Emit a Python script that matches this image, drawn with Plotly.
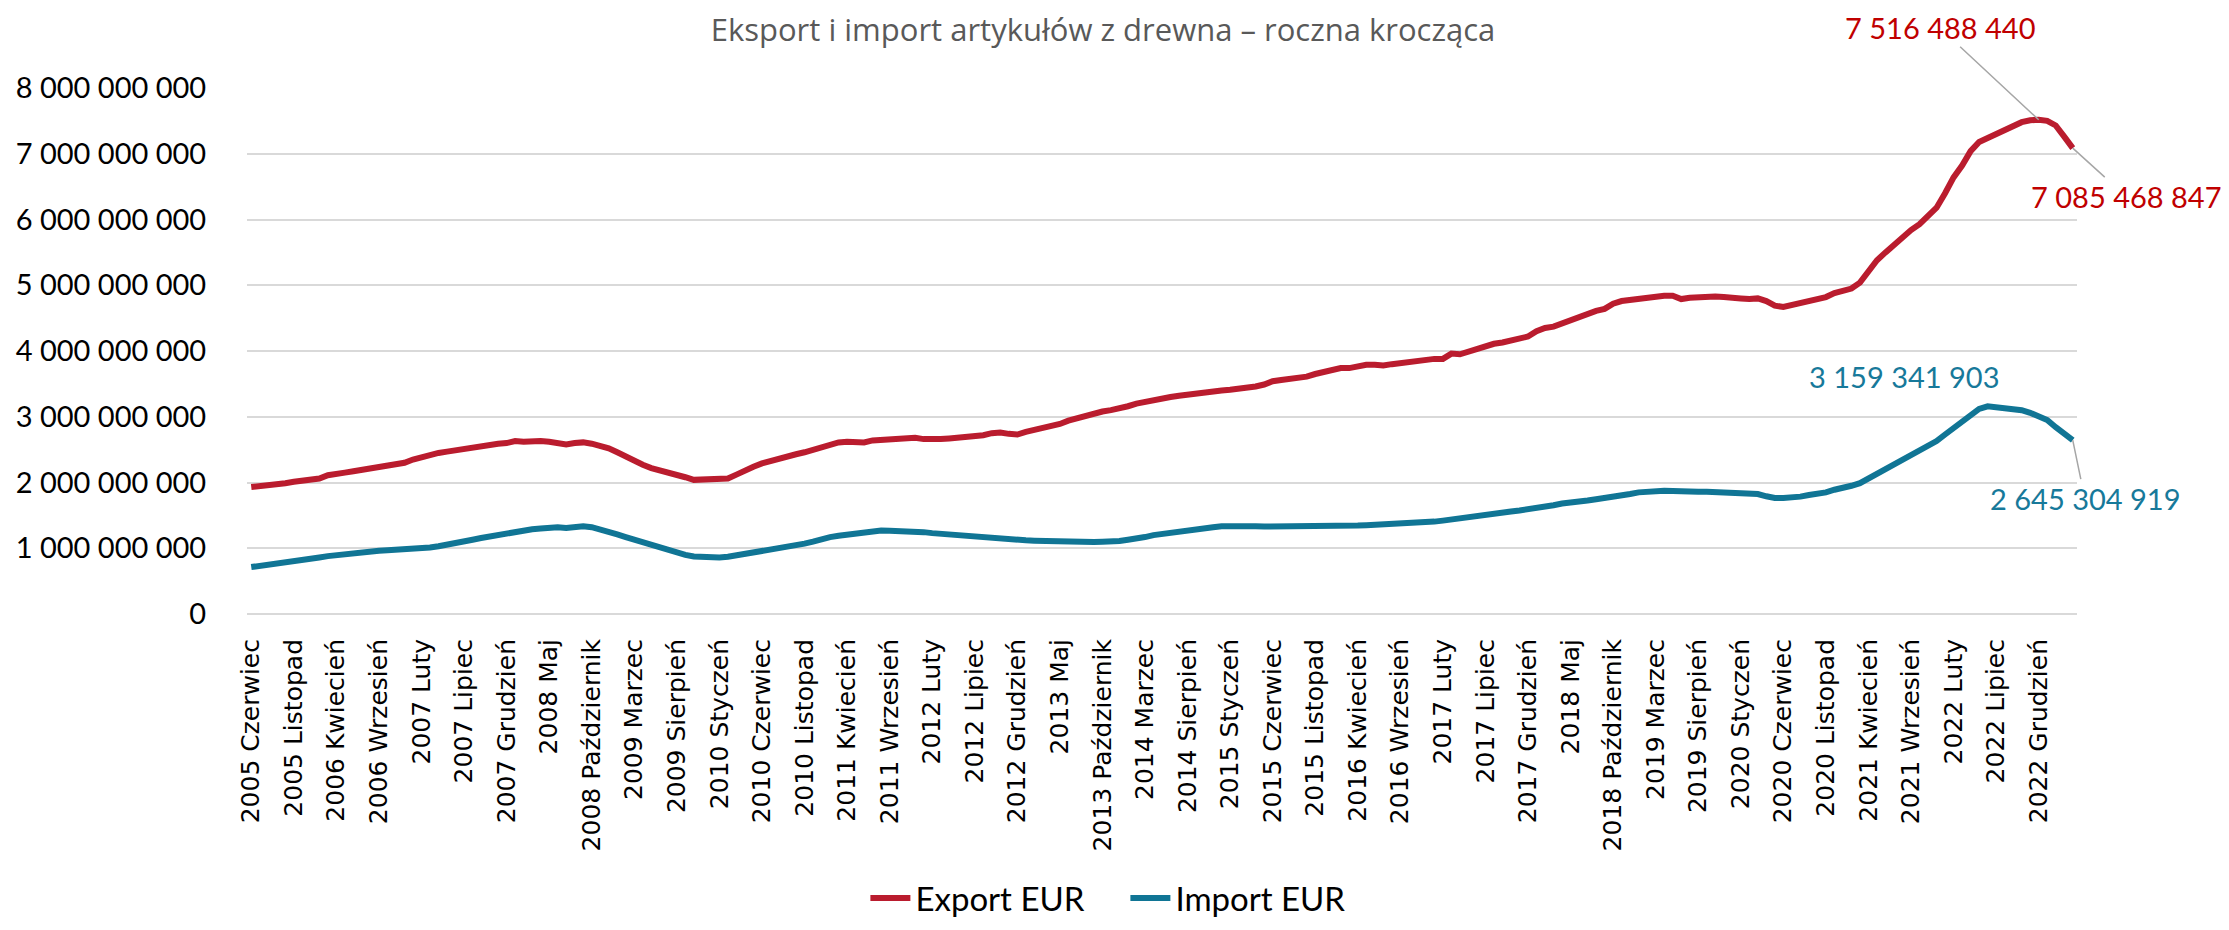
import plotly.graph_objects as go

# ---- categories (monthly, 2005 Czerwiec .. 2023 Kwiecień) ----
month_names = ["Styczeń", "Luty", "Marzec", "Kwiecień", "Maj", "Czerwiec", "Lipiec",
               "Sierpień", "Wrzesień", "Październik", "Listopad", "Grudzień"]
categories = []
for year in range(2005, 2024):
    for m, name in enumerate(month_names, start=1):
        if (year == 2005 and m < 6) or (year == 2023 and m > 4):
            continue
        categories.append(f"{year} {name}")

# ---- values in billions EUR (rolling 12-month sums) ----
export_bln = [
    1.93, 1.94, 1.96, 1.98, 1.99, 2.01, 2.03, 2.05, 2.06, 2.11,
    2.12, 2.15, 2.17, 2.19, 2.21, 2.23, 2.26, 2.28, 2.30, 2.35,
    2.39, 2.42, 2.45, 2.47, 2.49, 2.53, 2.55, 2.56, 2.58, 2.59,
    2.60, 2.63, 2.62, 2.63, 2.63, 2.62, 2.60, 2.58, 2.60, 2.61,
    2.59, 2.56, 2.52, 2.46, 2.39, 2.33, 2.27, 2.22, 2.19, 2.15,
    2.11, 2.08, 2.04, 2.04, 2.04, 2.04, 2.06, 2.12, 2.19, 2.24,
    2.29, 2.33, 2.37, 2.40, 2.43, 2.46, 2.50, 2.54, 2.59, 2.61,
    2.62, 2.62, 2.61, 2.64, 2.65, 2.65, 2.65, 2.66, 2.68, 2.66,
    2.65, 2.66, 2.67, 2.68, 2.69, 2.70, 2.72, 2.75, 2.76, 2.74,
    2.73, 2.77, 2.80, 2.81, 2.85, 2.89, 2.94, 2.98, 3.02, 3.05,
    3.08, 3.10, 3.12, 3.16, 3.20, 3.23, 3.26, 3.28, 3.30, 3.32,
    3.34, 3.36, 3.38, 3.39, 3.40, 3.41, 3.42, 3.44, 3.46, 3.49,
    3.54, 3.56, 3.57, 3.59, 3.61, 3.65, 3.68, 3.71, 3.74, 3.74,
    3.77, 3.79, 3.79, 3.78, 3.80, 3.82, 3.83, 3.85, 3.87, 3.88,
    3.88, 3.96, 3.95, 3.99, 4.03, 4.08, 4.11, 4.13, 4.16, 4.20,
    4.22, 4.30, 4.35, 4.37, 4.42, 4.46, 4.52, 4.57, 4.61, 4.64,
    4.72, 4.76, 4.78, 4.79, 4.80, 4.82, 4.84, 4.84, 4.79, 4.81,
    4.82, 4.82, 4.83, 4.82, 4.80, 4.80, 4.79, 4.80, 4.76, 4.69,
    4.67, 4.70, 4.71, 4.74, 4.79, 4.82, 4.88, 4.92, 4.95, 5.04,
    5.22, 5.38, 5.50, 5.62, 5.74, 5.84, 5.93, 6.05, 6.18, 6.40,
    6.64, 6.82, 7.04, 7.18, 7.24, 7.31, 7.37, 7.43, 7.48, 7.51,
    7.516488440, 7.50, 7.43, 7.26, 7.085468847,
]

import_bln = [
    0.714, 0.73, 0.745, 0.76, 0.78, 0.81, 0.83, 0.845, 0.86, 0.88,
    0.895, 0.92, 0.935, 0.945, 0.955, 0.962, 0.968, 0.974, 0.978, 0.985,
    0.995, 1.01, 1.03, 1.05, 1.08, 1.10, 1.13, 1.155, 1.18, 1.19,
    1.21, 1.25, 1.27, 1.29, 1.30, 1.315, 1.32, 1.31, 1.325, 1.335,
    1.32, 1.29, 1.26, 1.21, 1.17, 1.13, 1.08, 1.04, 1.00, 0.96,
    0.93, 0.90, 0.875, 0.865, 0.86, 0.86, 0.87, 0.89, 0.92, 0.95,
    0.97, 0.99, 1.00, 1.03, 1.05, 1.07, 1.10, 1.14, 1.17, 1.19,
    1.21, 1.22, 1.24, 1.265, 1.27, 1.265, 1.265, 1.26, 1.255, 1.245,
    1.23, 1.22, 1.21, 1.19, 1.175, 1.16, 1.15, 1.145, 1.14, 1.14,
    1.13, 1.12, 1.115, 1.11, 1.105, 1.10, 1.10, 1.095, 1.09, 1.095,
    1.10, 1.10, 1.11, 1.13, 1.145, 1.17, 1.20, 1.22, 1.24, 1.255,
    1.27, 1.285, 1.30, 1.32, 1.335, 1.34, 1.34, 1.34, 1.335, 1.33,
    1.33, 1.335, 1.335, 1.335, 1.33, 1.325, 1.325, 1.325, 1.325, 1.33,
    1.345, 1.35, 1.355, 1.355, 1.37, 1.375, 1.385, 1.39, 1.395, 1.405,
    1.42, 1.44, 1.44, 1.465, 1.49, 1.51, 1.53, 1.54, 1.56, 1.575,
    1.59, 1.61, 1.625, 1.655, 1.68, 1.69, 1.71, 1.725, 1.745, 1.76,
    1.785, 1.80, 1.825, 1.85, 1.865, 1.875, 1.875, 1.87, 1.86, 1.865,
    1.86, 1.86, 1.855, 1.845, 1.84, 1.835, 1.83, 1.825, 1.79, 1.765,
    1.765, 1.77, 1.785, 1.81, 1.82, 1.85, 1.89, 1.91, 1.95, 1.99,
    2.06, 2.13, 2.20, 2.27, 2.35, 2.43, 2.50, 2.57, 2.63, 2.73,
    2.83, 2.93, 3.03, 3.12, 3.159341903, 3.15, 3.13, 3.11, 3.10, 3.06,
    3.00, 2.95, 2.84, 2.74, 2.645304919,
]

export_eur = [round(v * 1e9) for v in export_bln]
import_eur = [round(v * 1e9) for v in import_bln]

y_tickvals = [0, 1e9, 2e9, 3e9, 4e9, 5e9, 6e9, 7e9, 8e9]
y_ticktext = ["0", "1 000 000 000", "2 000 000 000", "3 000 000 000", "4 000 000 000",
              "5 000 000 000", "6 000 000 000", "7 000 000 000", "8 000 000 000"]
x_tickvals = categories[::5]


def fmt(v):
    return f"{v:,}".replace(",", " ")


RED_LINE = "#BA1C2E"
TEAL_LINE = "#107595"
RED_TXT = "#C00000"
TEAL_TXT = "#17799A"
NUM_FONT = "Lato, 'Open Sans', sans-serif"
TITLE_FONT = "'Open Sans', 'Noto Sans', sans-serif"

fig = go.Figure()
fig.add_trace(go.Scatter(x=categories, y=export_eur, mode="lines", name="Export EUR",
                         line=dict(color=RED_LINE, width=6)))
fig.add_trace(go.Scatter(x=categories, y=import_eur, mode="lines", name="Import EUR",
                         line=dict(color=TEAL_LINE, width=6)))

i_exp_max = export_eur.index(max(export_eur))
i_imp_max = import_eur.index(max(import_eur))
last = len(categories) - 1

annotations = [
    dict(x=categories[i_exp_max], y=export_eur[i_exp_max], text=fmt(export_eur[i_exp_max]),
         showarrow=True, arrowhead=0, arrowwidth=1.5, arrowcolor="#A6A6A6",
         ax=-99, ay=-92, font=dict(family=NUM_FONT, size=29, color=RED_TXT)),
    dict(x=categories[last], y=export_eur[last], text=fmt(export_eur[last]),
         showarrow=True, arrowhead=0, arrowwidth=1.5, arrowcolor="#A6A6A6",
         ax=53, ay=48, font=dict(family=NUM_FONT, size=29, color=RED_TXT)),
    dict(x=categories[i_imp_max], y=import_eur[i_imp_max], text=fmt(import_eur[i_imp_max]),
         showarrow=False, xshift=-84, yshift=30,
         font=dict(family=NUM_FONT, size=29, color=TEAL_TXT)),
    dict(x=categories[last], y=import_eur[last], text=fmt(import_eur[last]),
         showarrow=True, arrowhead=0, arrowwidth=1.5, arrowcolor="#A6A6A6",
         ax=12, ay=58, font=dict(family=NUM_FONT, size=29, color=TEAL_TXT)),
]

fig.update_layout(
    width=2229, height=930,
    margin=dict(l=239, r=160, t=80, b=305),
    paper_bgcolor="white", plot_bgcolor="white",
    title=dict(text="Eksport i import artykułów z drewna – roczna krocząca",
               x=1095 / 2229, xanchor="center", xref="container",
               y=1 - 22 / 930, yanchor="middle", yref="container",
               font=dict(family=TITLE_FONT, size=31, color="#595959")),
    showlegend=True,
    legend=dict(orientation="h", x=0.48, xanchor="center", y=-0.54, yanchor="middle",
                font=dict(family=NUM_FONT, size=33, color="black"),
                itemwidth=40, entrywidth=205, entrywidthmode="pixels",
                tracegroupgap=0, bgcolor="rgba(0,0,0,0)"),
    annotations=annotations,
)

fig.update_xaxes(
    type="category", range=[-0.5, last + 0.5],
    tickmode="array", tickvals=x_tickvals, ticktext=x_tickvals,
    tickangle=-90, tickfont=dict(family="DejaVu Sans", size=25, color="black"),
    ticks="outside", ticklen=14, tickcolor="rgba(0,0,0,0)",
    showgrid=False, showline=False, zeroline=False, automargin=False,
)
fig.update_yaxes(
    range=[0, 8e9], tickmode="array", tickvals=y_tickvals, ticktext=y_ticktext,
    tickfont=dict(family=NUM_FONT, size=29, color="black"),
    ticks="outside", ticklen=34, tickcolor="rgba(0,0,0,0)",
    showgrid=True, gridcolor="#D9D9D9", gridwidth=2,
    zeroline=True, zerolinecolor="#D9D9D9", zerolinewidth=2,
    showline=False, automargin=False,
)

fig.write_html("out.html")
